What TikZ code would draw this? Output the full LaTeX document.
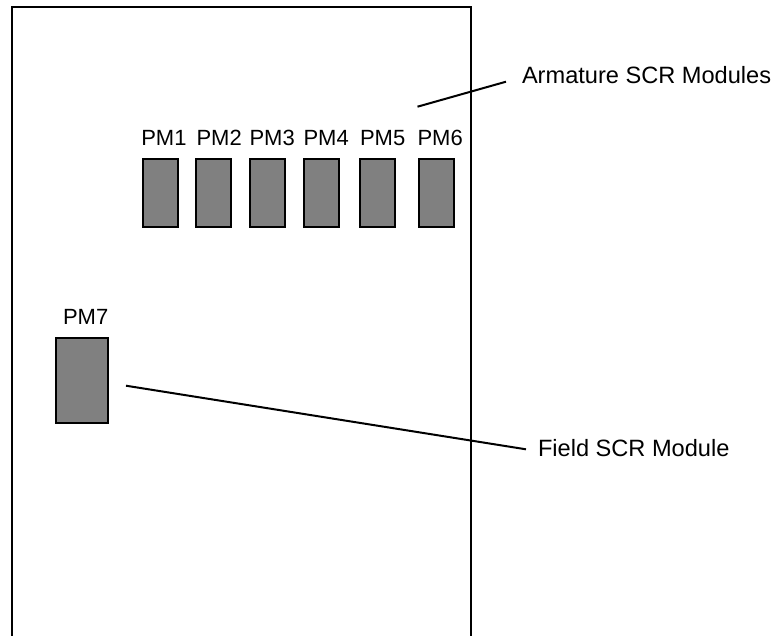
\documentclass[tikz,border=0pt]{standalone}
\usepackage{fontspec}
\setmainfont{Liberation Sans}
\begin{document}
\begin{tikzpicture}[x=1pt,y=-1pt,
  line width=2pt,
  module/.style={draw=black, fill=gray, line width=2pt, inner sep=0pt, minimum width=35pt, minimum height=68pt},
  pmlabel/.style={anchor=base west, inner sep=0pt, font=\fontsize{22}{26}\selectfont},
  calllabel/.style={anchor=base west, inner sep=0pt, font=\fontsize{23.6}{28}\selectfont}]
\useasboundingbox (0,0) rectangle (779,635);
% cabinet frame (open at the bottom)
\draw (11.7,640) -- (11.7,7) -- (471,7) -- (471,640);
% armature modules
\node[module] (pm1) at (160,192.5) {};
\node[module] (pm2) at (213.3,192.5) {};
\node[module] (pm3) at (267.3,192.5) {};
\node[module] (pm4) at (321,192.5) {};
\node[module] (pm5) at (377.3,192.5) {};
\node[module] (pm6) at (436,192.5) {};
\node[pmlabel] (l1) at (140.3,145) {PM1};
\node[pmlabel] (l2) at (195.5,145) {PM2};
\node[pmlabel] (l3) at (248.5,145) {PM3};
\node[pmlabel] (l4) at (302.5,145) {PM4};
\node[pmlabel] (l5) at (359,145) {PM5};
\node[pmlabel] (l6) at (416.5,145) {PM6};
% field module
\node[module, minimum width=52pt, minimum height=85.3pt] (pm7) at (82,380.3) {};
\node[pmlabel] (l7) at (62,324) {PM7};
% callouts
\node[calllabel] (arm) at (521,83.3) {Armature SCR Modules};
\node[calllabel] (fld) at (537,456) {Field SCR Module};
\coordinate (a0) at (417.5,106.7);
\coordinate (a1) at (506,81.7);
\coordinate (f0) at (126,385.7);
\coordinate (f1) at (526,449.3);
\draw (a0) -- (a1);
\draw (f0) -- (f1);
\end{tikzpicture}
\end{document}
